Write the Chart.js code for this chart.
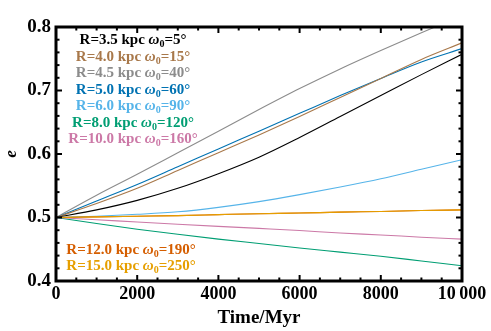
<!DOCTYPE html>
<html><head><meta charset="utf-8">
<script src="https://cdn.jsdelivr.net/npm/chart.js@4"></script>
<style>html,body{margin:0;padding:0;background:#fff}#wrap{width:491px;height:331px}</style>
</head><body><div id="wrap"><canvas id="c" width="491" height="331"></canvas></div>
<script>
// ---- data ----
const times = [0,1000,2000,3000,4000,5000,6000,7000,8000,9000,10000];
const e_R3_5  = [0.500,0.512,0.527,0.546,0.569,0.595,0.626,0.659,0.692,0.725,0.757];
const e_R4_0  = [0.500,0.522,0.546,0.574,0.602,0.630,0.659,0.689,0.719,0.749,0.775];
const e_R4_5  = [0.500,0.535,0.568,0.602,0.636,0.670,0.703,0.734,0.763,0.791,0.818];
const e_R5_0  = [0.500,0.526,0.552,0.580,0.608,0.636,0.664,0.692,0.719,0.745,0.766];
const e_R6_0  = [0.500,0.502,0.505,0.509,0.516,0.525,0.536,0.548,0.561,0.576,0.591];
const e_R8_0  = [0.500,0.4905,0.4815,0.4735,0.466,0.459,0.452,0.4455,0.439,0.4315,0.424];
const e_R10_0 = [0.500,0.4965,0.4928,0.4893,0.486,0.4828,0.4795,0.4755,0.4725,0.469,0.466];
const e_R12_0 = [0.500,0.501,0.502,0.503,0.5045,0.506,0.507,0.5085,0.5095,0.511,0.512];
const e_R15_0 = [0.500,0.501,0.502,0.503,0.5045,0.506,0.507,0.5085,0.5095,0.511,0.512];
const radii   = ['3.5','4.0','4.5','5.0','6.0','8.0','10.0','12.0','15.0'];
const omegas  = ['5','15','40','60','90','120','160','190','250'];
const colors  = ['#000000','#a8784a','#8c8c8c','#0072b2','#56b4e9','#009e73','#cc79a7','#d55e00','#e69f00'];
const xTicks = [0,2000,4000,6000,8000,10000];
const xTickLabels = ['0','2000','4000','6000','8000','10\u2009000'];
const yTicks = [0.4,0.5,0.6,0.7,0.8];
const yTickLabels = ['0.4','0.5','0.6','0.7','0.8'];

const seriesValues = [e_R3_5,e_R4_0,e_R4_5,e_R5_0,e_R6_0,e_R8_0,e_R10_0,e_R12_0,e_R15_0];
const drawOrder = [8,7,6,5,4,0,1,3,2];
const datasets = drawOrder.map(i => ({
  label: 'R=' + radii[i] + ' kpc',
  data: times.map((t,k) => ({x:t, y:seriesValues[i][k]})),
  borderColor: colors[i],
  borderWidth: 1.1,
  pointRadius: 0,
  fill: false,
  cubicInterpolationMode: 'monotone'
}));

const SERIF = '"Liberation Serif","Times New Roman",serif';

const frame = {
  id: 'frame',
  afterDraw(chart) {
    const {ctx, chartArea: a, scales: {x, y}} = chart;
    ctx.save();
    ctx.strokeStyle = '#000';
    ctx.lineWidth = 2;
    const seg = (x1,y1,x2,y2) => { ctx.beginPath(); ctx.moveTo(x1,y1); ctx.lineTo(x2,y2); ctx.stroke(); };
    for (let k = 0; k <= 20; k++) {
      const v = k * 500, px = x.getPixelForValue(v), L = (v % 2000 === 0) ? 6 : 3.5;
      seg(px, a.bottom, px, a.bottom - L); seg(px, a.top, px, a.top + L);
    }
    for (let k = 0; k <= 20; k++) {
      const v = 0.4 + k * 0.02, py = y.getPixelForValue(v), L = (k % 5 === 0) ? 6 : 3.5;
      seg(a.left, py, a.left + L, py); seg(a.right, py, a.right - L, py);
    }
    ctx.lineWidth = 3;
    ctx.strokeRect(a.left, a.top, a.right - a.left, a.bottom - a.top);

    // annotation labels
    const fs = 15;
    const drawLabel = (i, cx, base) => {
      const parts = [
        {t: 'R=' + radii[i] + ' kpc ', f: 'bold ' + fs + 'px ' + SERIF, dy: 0},
        {t: 'ω', f: 'italic bold ' + fs + 'px ' + SERIF, dy: 0},
        {t: '0', f: 'bold ' + Math.round(fs*0.68) + 'px ' + SERIF, dy: 3},
        {t: '=' + omegas[i] + '°', f: 'bold ' + fs + 'px ' + SERIF, dy: 0}
      ];
      let w = 0;
      parts.forEach(p => { ctx.font = p.f; p.w = ctx.measureText(p.t).width; w += p.w; });
      let xx = cx - w / 2;
      ctx.fillStyle = colors[i];
      ctx.textBaseline = 'alphabetic';
      ctx.textAlign = 'left';
      parts.forEach(p => { ctx.font = p.f; ctx.fillText(p.t, xx, base + p.dy); xx += p.w; });
    };
    const tops = [44, 60.5, 77, 93.5, 110, 126.5, 143];
    for (let i = 0; i < 7; i++) drawLabel(i, 133, tops[i]);
    drawLabel(7, 131, 253.5);
    drawLabel(8, 131, 269.5);
    ctx.restore();
  }
};

new Chart(document.getElementById('c'), {
  type: 'line',
  data: { datasets },
  options: {
    responsive: false,
    devicePixelRatio: 1,
    animation: false,
    layout: { padding: { top: 27, right: 29, left: 0, bottom: 0 } },
    plugins: { legend: { display: false }, tooltip: { enabled: false } },
    scales: {
      x: {
        type: 'linear', min: 0, max: 10000,
        grid: { display: false, drawTicks: false },
        border: { display: false },
        afterBuildTicks: s => { s.ticks = xTicks.map(v => ({value: v})); },
        afterFit: s => { s.height = 50; },
        ticks: {
          padding: 3, maxRotation: 0, autoSkip: false, color: '#000',
          font: { family: SERIF, size: 18, weight: 'bold' },
          callback: (v) => xTickLabels[xTicks.indexOf(v)]
        },
        title: { display: true, text: 'Time/Myr', color: '#000',
          font: { family: SERIF, size: 19, weight: 'bold', lineHeight: 1.2 },
          padding: { top: 0, bottom: 2 } }
      },
      y: {
        type: 'linear', min: 0.4, max: 0.8,
        grid: { display: false, drawTicks: false },
        border: { display: false },
        afterBuildTicks: s => { s.ticks = yTicks.map(v => ({value: v})); },
        afterFit: s => { s.width = 56; },
        ticks: {
          padding: 5, color: '#000',
          font: { family: SERIF, size: 19, weight: 'bold' },
          callback: (v) => yTickLabels[yTicks.findIndex(t => Math.abs(t - v) < 1e-9)]
        },
        title: { display: true, text: 'e', color: '#000',
          font: { family: SERIF, size: 17, weight: 'bold', style: 'italic', lineHeight: 1.2 },
          padding: { top: 1, bottom: 0 } }
      }
    }
  },
  plugins: [frame]
});
</script>
</body></html>
